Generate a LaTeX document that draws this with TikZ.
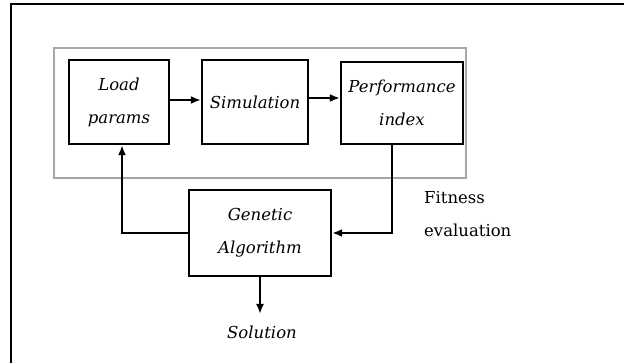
\documentclass[tikz,border=0pt]{standalone}
\usepackage{fontspec}
\setmainfont{DejaVu Serif}
\usetikzlibrary{arrows.meta}
\begin{document}
\begin{tikzpicture}[x=1pt,y=-1pt,
  txt/.style={font=\fontsize{16.5}{33}\selectfont\itshape},
  blk/.style={txt,draw=black,line width=2.3pt,minimum width=#1,inner sep=0pt,align=center},
  arr/.style={line width=2pt,-{Latex[length=10pt,width=8pt]}}]
\useasboundingbox (0,0) rectangle (624,363);
\fill[white] (0,0) rectangle (624,363);
\draw[line width=2.4pt] (11,363) -- (11,4) -- (624,4);
\node[draw=gray!70,line width=1.8pt,minimum width=412pt,minimum height=130pt,inner sep=0pt] (frame) at (260,113) {};
\node[blk=100pt,minimum height=84pt] (load) at (119,102) {Load\\params};
\node[blk=106pt,minimum height=84pt] (sim) at (255,102) {Simulation};
\node[blk=122pt,minimum height=82pt] (perf) at (402,103) {Performance\\index};
\node[blk=142pt,minimum height=86pt] (ga) at (260,233) {Genetic\\Algorithm};
\node[txt,inner sep=0pt,anchor=base] (sol) at (262,338) {Solution};
\node[font=\fontsize{16.5}{33}\selectfont,align=left,inner sep=0pt,anchor=base west] (fit) at (424,237) {Fitness\\evaluation};
\coordinate (solend) at (ga.south |- 0,314);
\draw[arr] ([yshift=2pt]load.east) -- ([yshift=2pt]load.east -| sim.west);
\draw[arr] ([yshift=4pt]sim.east) -- ([yshift=4pt]sim.east -| perf.west);
\draw[arr] (ga.west) -| ([xshift=3pt]load.south);
\draw[arr] ([xshift=-10pt]perf.south) |- (ga.east);
\draw[arr] (ga.south) -- (solend);
\end{tikzpicture}
\end{document}
